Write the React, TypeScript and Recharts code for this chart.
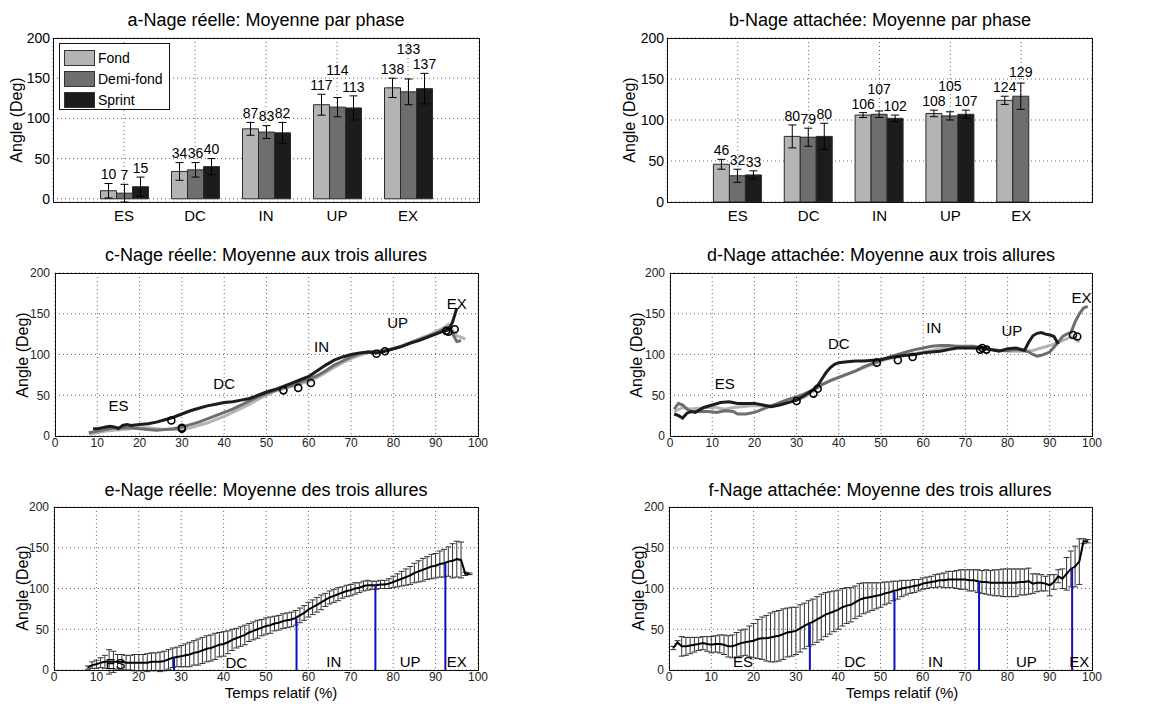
import { Bar, BarChart, CartesianGrid, ComposedChart, ErrorBar, LabelList, Line, ReferenceLine, Scatter, XAxis, YAxis } from 'recharts'

const FONT = '"Liberation Sans", Arial, Helvetica, sans-serif'
const NARROW = '"Liberation Sans Narrow", "Liberation Sans", Arial, sans-serif'

const phases = ['ES', 'DC', 'IN', 'UP', 'EX']
const allures = ['Fond', 'Demi-fond', 'Sprint']
const allureColors = ['#b4b4b4', '#6e6e6e', '#1c1c1c']
const xTicks = [0, 10, 20, 30, 40, 50, 60, 70, 80, 90, 100]
const yTicks = [0, 50, 100, 150, 200]

// a - nage réelle: moyenne par phase et écart-type (deg)
const reelleFond = [10, 34, 87, 117, 138]
const reelleFondSd = [9, 11, 8, 13, 12]
const reelleDemi = [7, 36, 83, 114, 133]
const reelleDemiSd = [11, 9, 8, 12, 16]
const reelleSprint = [15, 40, 82, 113, 137]
const reelleSprintSd = [12, 10, 13, 15, 19]

// b - nage attachée
const attacheeFond = [46, 80, 106, 108, 124]
const attacheeFondSd = [6, 14, 3, 4, 5]
const attacheeDemi = [32, 79, 107, 105, 129]
const attacheeDemiSd = [8, 11, 4, 5, 16]
const attacheeSprint = [33, 80, 102, 107, null]
const attacheeSprintSd = [5, 16, 4, 5, null]

// c - courbes nage réelle [temps %, angle]
const reelleFondCurve = [[8, 2], [10, 4], [12, 6], [14, 7], [16, 8], [18, 9], [20, 10], [22, 10], [24, 9], [26, 8], [28, 8], [30, 8], [32, 10], [34, 13], [36, 16], [38, 20], [40, 24], [42, 29], [44, 34], [46, 39], [48, 45], [50, 50], [52, 55], [54, 58], [56, 61], [58, 64], [60, 67], [62, 72], [64, 78], [66, 84], [68, 90], [70, 95], [72, 99], [74, 102], [76, 103], [78, 105], [80, 107], [82, 111], [84, 115], [86, 119], [88, 123], [90, 128], [92, 133], [93, 137], [94, 130], [95, 123], [96, 121], [97, 119]]
const reelleDemiCurve = [[8, 4], [10, 6], [12, 8], [14, 10], [16, 10], [18, 10], [20, 9], [22, 8], [24, 7], [26, 8], [28, 9], [30, 11], [32, 14], [34, 17], [36, 21], [38, 25], [40, 29], [42, 33], [44, 38], [46, 43], [48, 48], [50, 52], [52, 56], [54, 59], [56, 62], [58, 66], [60, 70], [62, 74], [64, 80], [66, 87], [68, 92], [70, 97], [72, 101], [74, 103], [76, 104], [78, 105], [80, 107], [82, 110], [84, 114], [86, 118], [88, 122], [90, 126], [92, 131], [93, 133], [94, 125], [95, 116], [96, 117]]
const reelleSprintCurve = [[9, 9], [10, 9], [11, 10], [12, 11], [13, 12], [14, 11], [15, 9], [16, 13], [17, 14], [18, 13], [20, 14], [22, 15], [24, 17], [26, 20], [28, 23], [30, 27], [32, 31], [34, 34], [36, 37], [38, 39], [40, 41], [42, 42], [44, 44], [46, 46], [48, 50], [50, 54], [52, 57], [54, 61], [56, 65], [58, 69], [60, 73], [62, 80], [64, 87], [66, 93], [68, 97], [70, 100], [72, 102], [74, 103], [76, 102], [78, 104], [80, 107], [82, 110], [84, 114], [86, 117], [88, 121], [90, 125], [92, 129], [93, 130], [94, 140], [95, 157]]
const reelleTransitions = [[27.5, 19], [30, 9], [30, 10], [54, 56], [57.5, 59], [60.5, 65], [76, 101], [78, 104], [92.5, 129], [93, 128], [94.5, 131]]
const reellePhaseSpots = [[15, 38], [40, 64], [63, 110], [81, 139], [95, 162]]

// d - courbes nage attachée
const attacheeFondCurve = [[1, 30], [3, 35], [5, 33], [7, 34], [9, 35], [11, 35], [13, 33], [15, 35], [17, 36], [19, 37], [21, 37], [23, 37], [25, 38], [27, 40], [30, 44], [32, 48], [34, 55], [36, 63], [38, 68], [40, 72], [42, 76], [44, 80], [46, 84], [48, 88], [50, 92], [52, 95], [54, 97], [56, 99], [58, 101], [60, 103], [62, 105], [64, 107], [66, 108], [68, 109], [70, 109], [72, 108], [74, 107], [76, 106], [78, 105], [80, 104], [82, 104], [84, 104], [86, 105], [88, 108], [90, 111], [92, 115], [94, 119], [95, 122], [96, 120], [97, 115]]
const attacheeDemiCurve = [[1, 33], [2, 40], [3, 38], [4, 33], [5, 30], [7, 30], [9, 30], [11, 29], [13, 31], [15, 30], [16, 27], [18, 27], [20, 29], [22, 33], [24, 37], [26, 41], [28, 45], [30, 48], [32, 52], [34, 57], [36, 63], [38, 68], [40, 72], [42, 76], [44, 80], [46, 85], [48, 89], [50, 93], [52, 97], [54, 100], [56, 103], [58, 106], [60, 108], [62, 110], [64, 111], [66, 111], [68, 110], [70, 110], [72, 110], [74, 108], [76, 106], [78, 105], [80, 105], [82, 106], [84, 105], [85, 103], [86, 100], [87, 98], [88, 99], [90, 103], [92, 115], [93, 122], [94, 125], [95, 127], [96, 140], [97, 150], [98, 157], [99, 159]]
const attacheeSprintCurve = [[1, 27], [2, 25], [3, 22], [4, 28], [5, 30], [6, 29], [7, 32], [8, 35], [10, 38], [12, 41], [14, 42], [16, 40], [18, 40], [20, 40], [22, 38], [24, 36], [26, 38], [28, 41], [30, 44], [32, 50], [34, 57], [35, 62], [36, 70], [37, 78], [38, 84], [39, 88], [40, 90], [42, 91], [44, 92], [46, 92], [48, 93], [50, 94], [52, 96], [54, 98], [56, 99], [58, 100], [60, 102], [62, 103], [64, 104], [66, 106], [68, 108], [70, 108], [72, 108], [74, 108], [76, 106], [78, 104], [80, 107], [82, 108], [84, 105], [85, 115], [86, 123], [87, 126], [88, 127], [89, 125], [90, 124], [91, 122], [92, 113]]
const attacheeTransitions = [[30, 43], [34, 52], [35, 58], [49, 90], [54, 93], [57.5, 97], [73.5, 106], [74, 108], [75, 106], [95.5, 124], [96.5, 122]]
const attacheePhaseSpots = [[13, 64], [40, 113], [62.5, 133], [81, 130], [97.5, 170]]

// e - moyenne des trois allures, nage réelle [temps %, moyenne, écart-type]
const reelleMean = [[8, 3, 2], [9, 6, 4], [10, 7, 5], [11, 9, 6], [12, 10, 8], [13, 10, 15], [14, 10, 13], [15, 10, 9], [16, 10, 9], [17, 9, 9], [18, 9, 9], [19, 9, 10], [20, 9, 10], [21, 9, 10], [22, 9, 11], [23, 10, 11], [24, 10, 11], [25, 10, 12], [26, 11, 12], [27, 13, 12], [28, 15, 12], [29, 16, 12], [30, 17, 13], [31, 18, 14], [32, 19, 15], [33, 21, 15], [34, 22, 16], [35, 24, 16], [36, 26, 16], [37, 27, 16], [38, 29, 16], [39, 31, 15], [40, 32, 15], [41, 34, 14], [42, 37, 13], [43, 39, 12], [44, 41, 12], [45, 43, 12], [46, 46, 11], [47, 48, 11], [48, 50, 11], [49, 52, 10], [50, 54, 10], [51, 55, 10], [52, 57, 9], [53, 58, 9], [54, 60, 9], [55, 61, 9], [56, 62, 9], [57, 64, 9], [58, 67, 9], [59, 70, 9], [60, 74, 9], [61, 77, 9], [62, 80, 9], [63, 83, 9], [64, 86, 8], [65, 89, 8], [66, 91, 8], [67, 93, 8], [68, 95, 7], [69, 97, 7], [70, 98, 7], [71, 100, 7], [72, 101, 6], [73, 103, 6], [74, 104, 6], [75, 104, 5], [76, 104, 5], [77, 105, 5], [78, 105, 5], [79, 106, 6], [80, 108, 7], [81, 110, 8], [82, 112, 9], [83, 114, 10], [84, 116, 11], [85, 119, 12], [86, 121, 13], [87, 123, 14], [88, 125, 14], [89, 127, 15], [90, 128, 15], [91, 130, 16], [92, 131, 17], [93, 133, 18], [94, 134, 21], [95, 136, 22], [96, 135, 22], [97, 118, 2], [98, 118, 1]]
const reelleBounds = [[28.3, 15], [57.2, 63], [75.8, 104], [92.3, 131]]
const reelleMeanSpots = [[14.5, 8], [43, 9], [66, 10], [84, 10], [95, 10]]

// f - moyenne des trois allures, nage attachée
const attacheeMean = [[1, 27, 2], [2, 34, 2], [3, 29, 12], [4, 29, 11], [5, 30, 10], [6, 31, 9], [7, 32, 8], [8, 33, 8], [9, 32, 9], [10, 31, 10], [11, 32, 10], [12, 32, 11], [13, 31, 12], [14, 29, 13], [15, 29, 14], [16, 31, 15], [17, 33, 16], [18, 34, 16], [19, 35, 19], [20, 36, 21], [21, 38, 24], [22, 39, 26], [23, 39, 28], [24, 40, 30], [25, 41, 31], [26, 42, 31], [27, 44, 31], [28, 46, 30], [29, 47, 30], [30, 48, 29], [31, 51, 29], [32, 54, 28], [33, 57, 28], [34, 59, 28], [35, 62, 28], [36, 65, 28], [37, 68, 27], [38, 70, 26], [39, 72, 25], [40, 74, 24], [41, 77, 23], [42, 79, 22], [43, 80, 21], [44, 83, 20], [45, 86, 20], [46, 88, 19], [47, 89, 18], [48, 90, 17], [49, 91, 16], [50, 92, 15], [51, 94, 14], [52, 95, 13], [53, 97, 12], [54, 98, 11], [55, 100, 10], [56, 101, 9], [57, 102, 8], [58, 103, 8], [59, 104, 7], [60, 106, 7], [61, 107, 7], [62, 108, 7], [63, 109, 8], [64, 110, 8], [65, 110, 9], [66, 111, 10], [67, 111, 10], [68, 111, 11], [69, 111, 12], [70, 111, 12], [71, 110, 13], [72, 110, 13], [73, 109, 14], [74, 108, 14], [75, 108, 15], [76, 107, 15], [77, 107, 16], [78, 107, 16], [79, 107, 17], [80, 107, 17], [81, 107, 17], [82, 107, 17], [83, 108, 16], [84, 108, 16], [85, 109, 16], [86, 106, 12], [87, 107, 11], [88, 107, 10], [89, 106, 9], [90, 104, 13], [91, 108, 9], [92, 115, 8], [93, 112, 12], [94, 118, 20], [95, 124, 22], [96, 127, 25], [97, 133, 28], [98, 158, 3], [99, 158, 2]]
const attacheeBounds = [[33.3, 57], [53.3, 96], [73.3, 109], [95.3, 125]]
const attacheeMeanSpots = [[17.5, 10], [44, 10], [63, 10], [84.5, 10], [97, 10]]

type Box = { x: number; y: number; w: number; h: number }

const boxA: Box = { x: 53, y: 38, w: 426, h: 164 }
const boxB: Box = { x: 667, y: 38, w: 425, h: 164 }
const boxC: Box = { x: 55, y: 273, w: 423, h: 163 }
const boxD: Box = { x: 670, y: 273, w: 422, h: 163 }
const boxE: Box = { x: 54, y: 507, w: 424, h: 163 }
const boxF: Box = { x: 669, y: 507, w: 423, h: 163 }

const chartMargin = { top: 10, right: 10, bottom: 5, left: 10 }

function toPoints(pairs: number[][]) {
    return pairs.map(([x, y]) => ({ x, y }))
}

function toPhaseSpots(pairs: number[][]) {
    return pairs.map(([x, y], i) => ({ x, y, name: phases[i] }))
}

function Frame({ box }: { box: Box }) {
    return (
        <div
            style={{
                position: 'absolute',
                left: box.x,
                top: box.y,
                width: box.w + 1,
                height: box.h + 1,
                border: '1px solid #111',
                boxSizing: 'border-box',
                pointerEvents: 'none',
            }}
        />
    )
}

function Title({ text, cx, cy }: { text: string; cx: number; cy: number }) {
    return (
        <div style={{ position: 'absolute', left: cx - 250, top: cy - 11, width: 500, lineHeight: '22px', textAlign: 'center', fontSize: 18, fontFamily: FONT, color: '#000' }}>
            {text}
        </div>
    )
}

function YLabel({ cx, cy }: { cx: number; cy: number }) {
    return (
        <div
            style={{
                position: 'absolute',
                left: cx - 70,
                top: cy - 10,
                width: 140,
                lineHeight: '20px',
                textAlign: 'center',
                fontSize: 16,
                fontFamily: FONT,
                transform: 'rotate(-90deg)',
            }}
        >
            Angle (Deg)
        </div>
    )
}

function XLabel({ cx, cy }: { cx: number; cy: number }) {
    return (
        <div style={{ position: 'absolute', left: cx - 100, top: cy - 8, width: 200, lineHeight: '16px', textAlign: 'center', fontSize: 15, fontFamily: FONT }}>
            Temps relatif (%)
        </div>
    )
}

function Wrapper({ box, children }: { box: Box; children: React.ReactNode }) {
    return <div style={{ position: 'absolute', left: box.x - 60, top: box.y - 10 }}>{children}</div>
}

function LegendBox() {
    return (
        <div style={{ position: 'absolute', left: 59, top: 43, width: 111, height: 67, border: '1px solid #111', background: '#fff', boxSizing: 'border-box', fontFamily: FONT, fontSize: 14 }}>
            {allures.map((name, i) => (
                <div key={name} style={{ position: 'absolute', left: 4, top: 5 + i * 21, height: 17, display: 'flex', alignItems: 'center' }}>
                    <div style={{ width: 31, height: 16, background: allureColors[i], border: '1px solid #333', boxSizing: 'border-box' }} />
                    <span style={{ marginLeft: 3 }}>{name}</span>
                </div>
            ))}
        </div>
    )
}

interface PhaseBarsProps {
    box: Box
    values: (number | null)[][]
    sds: (number | null)[][]
}

function PhaseBars({ box, values, sds }: PhaseBarsProps) {
    const keys = ['fond', 'demi', 'sprint']
    const data = phases.map((phase, i) => {
        const row: Record<string, string | number | null> = { phase }
        keys.forEach((key, s) => {
            row[key] = values[s][i]
            row[key + 'Sd'] = sds[s][i]
        })
        return row
    })
    const k = box.h / 200

    // label sits above the error bar; the middle label of a crowded
    // 3-digit group is lifted above its neighbours so the numbers stay readable
    const makeLabel = (s: number) => (props: any) => {
        const vb = props.viewBox ?? props
        const { value, index } = props
        if (value == null) return null
        const row = data[index]
        const barTop = Number(vb.y)
        const labelY = (series: number) => {
            const v = row[keys[series]]
            if (v == null) return null
            const sd = Number(row[keys[series] + 'Sd'] ?? 0)
            return barTop + (Number(value) - Number(v)) * k - sd * k - 9
        }
        let y = labelY(s) as number
        if (s === 1) {
            const wide = keys.some((key) => row[key] != null && String(row[key]).length >= 3)
            if (wide) {
                ;[0, 2].forEach((n) => {
                    const ny = labelY(n)
                    if (ny != null) y = Math.min(y, ny - 15)
                })
            }
        }
        return (
            <text x={Number(vb.x) + Number(vb.width) / 2} y={y} textAnchor="middle" dominantBaseline="central" fontSize={14} fontFamily={FONT} fill="#000">
                {value}
            </text>
        )
    }

    return (
        <Wrapper box={box}>
            <BarChart width={box.w + 70} height={box.h + 40} data={data} margin={chartMargin} barGap={0} barSize={16}>
                <CartesianGrid stroke="#666" strokeDasharray="1 3" />
                <XAxis
                    dataKey="phase"
                    padding={{ left: box.w / 12, right: box.w / 12 }}
                    axisLine={false}
                    tickLine={false}
                    tickSize={0}
                    tickMargin={8}
                    interval={0}
                    height={25}
                    tick={{ fontSize: 15, fill: '#000', fontFamily: FONT }}
                />
                <YAxis
                    domain={[0, 200]}
                    ticks={yTicks}
                    width={50}
                    axisLine={false}
                    tickLine={false}
                    tickSize={0}
                    tickMargin={3}
                    tick={{ fontSize: 14, fill: '#000', fontFamily: FONT }}
                />
                {keys.map((key, s) => (
                    <Bar key={key} dataKey={key} name={allures[s]} fill={allureColors[s]} stroke="#2a2a2a" strokeWidth={1} isAnimationActive={false}>
                        <ErrorBar dataKey={key + 'Sd'} width={4} stroke="#000" strokeWidth={1} direction="y" />
                        <LabelList dataKey={key} content={makeLabel(s)} />
                    </Bar>
                ))}
            </BarChart>
        </Wrapper>
    )
}

const ring = (props: any) => <circle cx={props.cx} cy={props.cy} r={3.5} fill="none" stroke="#000" strokeWidth={1.6} />
const phaseText = (props: any) => (
    <text x={props.cx} y={props.cy} textAnchor="middle" dominantBaseline="central" fontSize={15} fontFamily={FONT} fill="#000">
        {props.payload?.name}
    </text>
)

function axisChildren() {
    return [
        <CartesianGrid key="grid" stroke="#666" strokeDasharray="1 3" />,
        <XAxis
            key="x"
            dataKey="x"
            type="number"
            domain={[0, 100]}
            ticks={xTicks}
            allowDataOverflow
            axisLine={false}
            tickLine={false}
            tickSize={0}
            tickMargin={2}
            height={25}
            interval={0}
            tick={{ fontSize: 12, fill: '#222', fontFamily: NARROW }}
        />,
        <YAxis
            key="y"
            dataKey="y"
            type="number"
            domain={[0, 200]}
            ticks={yTicks}
            allowDataOverflow
            width={50}
            axisLine={false}
            tickLine={false}
            tickSize={0}
            tickMargin={5}
            tick={{ fontSize: 12, fill: '#222', fontFamily: NARROW }}
        />,
    ]
}

interface CurvesProps {
    box: Box
    curves: number[][][]
    transitions: number[][]
    spots: number[][]
}

function AlluresCurves({ box, curves, transitions, spots }: CurvesProps) {
    return (
        <Wrapper box={box}>
            <ComposedChart width={box.w + 70} height={box.h + 40} margin={chartMargin}>
                {axisChildren()}
                {curves.map((curve, s) => (
                    <Line
                        key={allures[s]}
                        data={toPoints(curve)}
                        dataKey="y"
                        name={allures[s]}
                        stroke={allureColors[s]}
                        strokeWidth={3}
                        dot={false}
                        type="linear"
                        isAnimationActive={false}
                    />
                ))}
                <Scatter data={toPoints(transitions)} dataKey="y" shape={ring} isAnimationActive={false} />
                <Scatter data={toPhaseSpots(spots)} dataKey="y" shape={phaseText} isAnimationActive={false} />
            </ComposedChart>
        </Wrapper>
    )
}

interface MeanProps {
    box: Box
    mean: number[][]
    bounds: number[][]
    spots: number[][]
}

function MeanCurve({ box, mean, bounds, spots }: MeanProps) {
    const data = mean.map(([x, y, e]) => ({ x, y, e }))
    return (
        <Wrapper box={box}>
            <ComposedChart width={box.w + 70} height={box.h + 40} margin={chartMargin}>
                {axisChildren()}
                <Line data={data} dataKey="y" stroke="none" dot={false} isAnimationActive={false}>
                    <ErrorBar dataKey="e" width={3} stroke="#333" strokeWidth={1} direction="y" />
                </Line>
                <Line data={data} dataKey="y" stroke="#000" strokeWidth={2} dot={false} isAnimationActive={false} />
                {bounds.map(([x, v]) => (
                    <ReferenceLine
                        key={x}
                        segment={[
                            { x, y: 0 },
                            { x, y: v },
                        ]}
                        stroke="#1010c0"
                        strokeWidth={2}
                    />
                ))}
                <Scatter data={toPhaseSpots(spots)} dataKey="y" shape={phaseText} isAnimationActive={false} />
            </ComposedChart>
        </Wrapper>
    )
}

export default function App() {
    return (
        <div style={{ position: 'absolute', left: 0, top: 0, width: 1161, height: 704, background: '#fff', overflow: 'hidden', fontFamily: FONT }}>
            <Title text="a-Nage réelle: Moyenne par phase" cx={266} cy={20} />
            <YLabel cx={17} cy={120} />
            <PhaseBars
                box={boxA}
                values={[reelleFond, reelleDemi, reelleSprint]}
                sds={[reelleFondSd, reelleDemiSd, reelleSprintSd]}
            />
            <Frame box={boxA} />
            <LegendBox />

            <Title text="b-Nage attachée: Moyenne par phase" cx={880} cy={20} />
            <YLabel cx={630} cy={120} />
            <PhaseBars
                box={boxB}
                values={[attacheeFond, attacheeDemi, attacheeSprint]}
                sds={[attacheeFondSd, attacheeDemiSd, attacheeSprintSd]}
            />
            <Frame box={boxB} />

            <Title text="c-Nage réelle: Moyenne aux trois allures" cx={266} cy={255} />
            <YLabel cx={23} cy={355} />
            <AlluresCurves box={boxC} curves={[reelleFondCurve, reelleDemiCurve, reelleSprintCurve]} transitions={reelleTransitions} spots={reellePhaseSpots} />
            <Frame box={boxC} />

            <Title text="d-Nage attachée: Moyenne aux trois allures" cx={881} cy={255} />
            <YLabel cx={637} cy={355} />
            <AlluresCurves box={boxD} curves={[attacheeFondCurve, attacheeDemiCurve, attacheeSprintCurve]} transitions={attacheeTransitions} spots={attacheePhaseSpots} />
            <Frame box={boxD} />

            <Title text="e-Nage réelle: Moyenne des trois allures" cx={266} cy={490} />
            <YLabel cx={23} cy={588} />
            <MeanCurve box={boxE} mean={reelleMean} bounds={reelleBounds} spots={reelleMeanSpots} />
            <Frame box={boxE} />
            <XLabel cx={281} cy={693} />

            <Title text="f-Nage attachée: Moyenne des trois allures" cx={880} cy={490} />
            <YLabel cx={639} cy={588} />
            <MeanCurve box={boxF} mean={attacheeMean} bounds={attacheeBounds} spots={attacheeMeanSpots} />
            <Frame box={boxF} />
            <XLabel cx={902} cy={693} />
        </div>
    )
}
